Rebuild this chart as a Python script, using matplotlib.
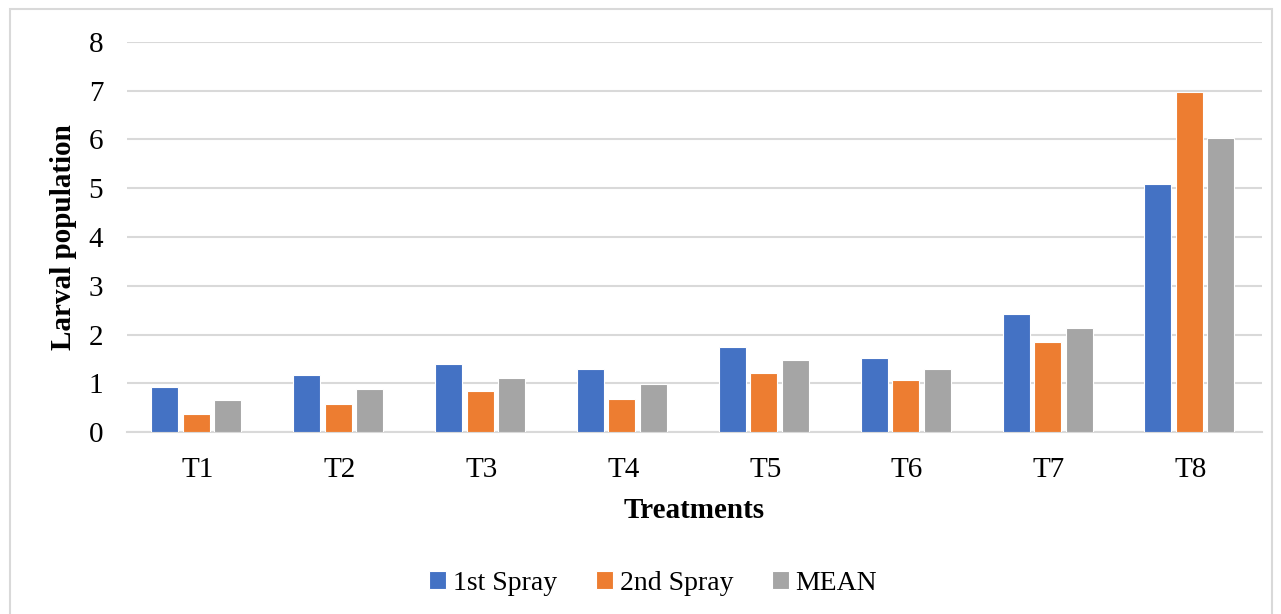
import numpy as np
import matplotlib.pyplot as plt
from matplotlib.patches import Rectangle

treatments = ["T1", "T2", "T3", "T4", "T5", "T6", "T7", "T8"]
spray1 = [0.93, 1.17, 1.39, 1.29, 1.74, 1.52, 2.43, 5.08]
spray2 = [0.38, 0.57, 0.84, 0.68, 1.22, 1.07, 1.85, 6.97]
mean_vals = [0.67, 0.88, 1.11, 0.98, 1.48, 1.29, 2.14, 6.03]

series = [("1st Spray", spray1, "#4472C4"),
          ("2nd Spray", spray2, "#ED7D31"),
          ("MEAN", mean_vals, "#A5A5A5")]

plt.rcParams['font.family'] = ['Liberation Serif', 'DejaVu Serif']

fig = plt.figure(figsize=(12.81, 6.14), dpi=100)
ax = fig.add_axes([0.099, 0.296, 0.886, 0.636])

# light frame around the whole chart
fig.patches.append(Rectangle((0.008, -0.01), 0.985, 0.995, transform=fig.transFigure,
                             fill=False, edgecolor="#d9d9d9", linewidth=1.5))

x = np.arange(len(treatments))
step = 0.222
for i, (name, vals, col) in enumerate(series):
    ax.bar(x + (i - 1) * step - 0.01, vals, width=0.19, color=col, label=name,
           edgecolor="white", linewidth=0.8, zorder=3)

ax.set_xlim(-0.5, len(treatments) - 0.5)
ax.set_ylim(0, 8)
ax.set_yticks(range(0, 9))
ax.set_xticks(x)
ax.set_xticklabels(treatments)
ax.tick_params(length=0, labelsize=21)
ax.tick_params(axis='x', pad=18)
ax.tick_params(axis='y', pad=17)
ax.grid(axis='y', color="#d9d9d9", linewidth=1.5, zorder=0)
for s in ["top", "right", "left"]:
    ax.spines[s].set_visible(False)
ax.spines["bottom"].set_color("#d9d9d9")
ax.spines["bottom"].set_linewidth(1.5)

ax.set_ylabel("Larval population", fontsize=21, fontweight="bold")
ax.yaxis.set_label_coords(-0.044, 0.5)
ax.set_xlabel("Treatments", fontsize=21, fontweight="bold")
ax.xaxis.set_label_coords(0.5, -0.165)

fig.legend(loc="center", bbox_to_anchor=(0.51, 0.05), ncol=3, frameon=False,
           fontsize=20, handlelength=0.6, handleheight=0.6, handletextpad=0.25,
           columnspacing=1.4)

fig.savefig("out.png", dpi=100)
